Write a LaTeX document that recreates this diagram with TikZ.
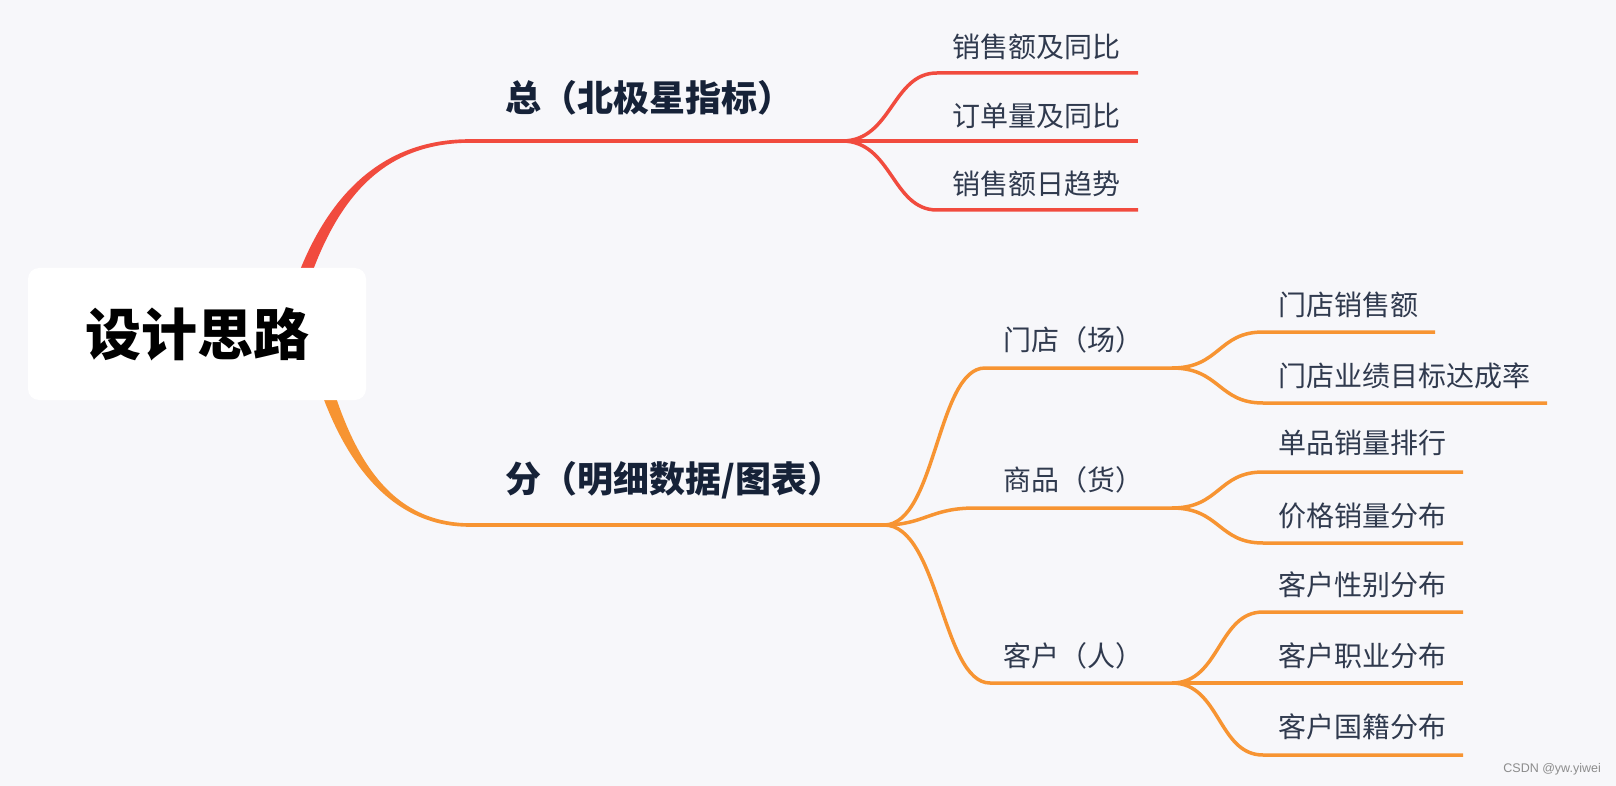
\documentclass[tikz,border=0pt]{standalone}
\usepackage{fontspec}
\setmainfont{Noto Sans CJK SC}
\newfontfamily\wmfont{Liberation Sans}
\definecolor{bgc}{RGB}{247,247,250}
\definecolor{redc}{RGB}{241,75,62}
\definecolor{orgc}{RGB}{247,148,50}
\definecolor{leafc}{RGB}{48,58,78}
\definecolor{lvlc}{RGB}{22,34,56}
\definecolor{wmc}{RGB}{140,140,140}
\tikzset{
  leaf/.style={anchor=west, inner sep=0pt, text=leafc, font=\fontsize{28}{30}\selectfont},
  lvl/.style={anchor=west, inner sep=0pt, text=lvlc, font=\bfseries\fontsize{36}{40}\selectfont},
  rootbox/.style={fill=white, rounded corners=11pt, minimum width=338pt, minimum height=132pt, inner sep=0pt, text=black, font=\bfseries\fontsize{56}{60}\selectfont},
  redln/.style={draw=redc, line width=3.5pt},
  orgln/.style={draw=orgc, line width=3.5pt},
}
\begin{document}
\begin{tikzpicture}[x=1pt,y=-1pt]
\fill[bgc] (0,0) rectangle (1616,786);
\useasboundingbox (0,0) rectangle (1616,786);

% tapered main branches (start hidden behind the root box)
\fill[redc] (306,290) .. controls (335,202) and (380,143) .. (470,142.8)
  -- (470,139.2) .. controls (380,139) and (325,198) .. (294,286) -- cycle;
\fill[orgc] (328,372) .. controls (350,448) and (385,523) .. (470,523.2)
  -- (470,526.8) .. controls (385,527) and (340,452) .. (316,377) -- cycle;

% root
\node[rootbox] (root) at (197,334) {设计思路};

% ---------- red branch ----------
\coordinate (rh0) at (466,141);
\coordinate (rf) at (842,141);
\draw[redln] (rh0) -- (rf);
\node[lvl] (zong) at (505,98) {总（北极星指标）};

\coordinate (ra1) at (937,73);  \coordinate (rb1) at (1138,73);
\coordinate (ra2) at (937,141); \coordinate (rb2) at (1138,141);
\coordinate (ra3) at (937,210); \coordinate (rb3) at (1138,210);
\draw[redln] (rf) .. controls +(50,0) and +(-45,0) .. (ra1) -- (rb1);
\draw[redln] (rf) -- (ra2) -- (rb2);
\draw[redln] (rf) .. controls +(50,0) and +(-45,0) .. (ra3) -- (rb3);
\node[leaf] (r1) at (952,47) {销售额及同比};
\node[leaf] (r2) at (952,116) {订单量及同比};
\node[leaf] (r3) at (952,184) {销售额日趋势};

% ---------- orange branch ----------
\coordinate (oh0) at (466,525);
\coordinate (of) at (884,525);
\draw[orgln] (oh0) -- (of);
\node[lvl] (fen) at (505,480) {分（明细数据/图表）};

\coordinate (m1s) at (985,368); \coordinate (m1e) at (1172,368);
\coordinate (m2s) at (975,508); \coordinate (m2e) at (1172,508);
\coordinate (m3s) at (990,683); \coordinate (m3e) at (1172,683);
\draw[orgln] (of) .. controls +(52,0) and +(-48,0) .. (m1s) -- (m1e);
\draw[orgln] (of) .. controls +(40,0) and +(-45,0) .. (m2s) -- (m2e);
\draw[orgln] (of) .. controls +(55,0) and +(-48,0) .. (m3s) -- (m3e);
\node[leaf] (md) at (1003,340) {门店（场）};
\node[leaf] (sp) at (1003,480) {商品（货）};
\node[leaf] (kh) at (1003,656) {客户（人）};

% leaves of 门店
\coordinate (l1s) at (1263,332); \coordinate (l1e) at (1435,332);
\coordinate (l2s) at (1263,403); \coordinate (l2e) at (1547,403);
\draw[orgln] (m1e) .. controls +(48,0) and +(-45,0) .. (l1s) -- (l1e);
\draw[orgln] (m1e) .. controls +(48,0) and +(-45,0) .. (l2s) -- (l2e);
\node[leaf] (t1) at (1278,305) {门店销售额};
\node[leaf] (t2) at (1278,376) {门店业绩目标达成率};

% leaves of 商品
\coordinate (l3s) at (1263,472); \coordinate (l3e) at (1463,472);
\coordinate (l4s) at (1263,543); \coordinate (l4e) at (1463,543);
\draw[orgln] (m2e) .. controls +(48,0) and +(-45,0) .. (l3s) -- (l3e);
\draw[orgln] (m2e) .. controls +(48,0) and +(-45,0) .. (l4s) -- (l4e);
\node[leaf] (t3) at (1278,443) {单品销量排行};
\node[leaf] (t4) at (1278,516) {价格销量分布};

% leaves of 客户
\coordinate (l5s) at (1263,612); \coordinate (l5e) at (1463,612);
\coordinate (l6s) at (1263,683); \coordinate (l6e) at (1463,683);
\coordinate (l7s) at (1263,755); \coordinate (l7e) at (1463,755);
\draw[orgln] (m3e) .. controls +(48,0) and +(-45,0) .. (l5s) -- (l5e);
\draw[orgln] (m3e) -- (l6s) -- (l6e);
\draw[orgln] (m3e) .. controls +(48,0) and +(-45,0) .. (l7s) -- (l7e);
\node[leaf] (t5) at (1278,585) {客户性别分布};
\node[leaf] (t6) at (1278,656) {客户职业分布};
\node[leaf] (t7) at (1278,727) {客户国籍分布};

% watermark
\node[anchor=east, inner sep=0pt, text=wmc, font=\wmfont\fontsize{12.5}{14}\selectfont] (wm) at (1601,769) {CSDN @yw.yiwei};
\end{tikzpicture}
\end{document}
